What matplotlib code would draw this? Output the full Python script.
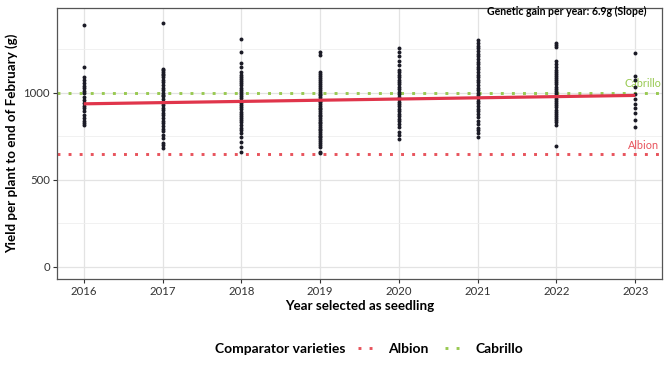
import numpy as np
import matplotlib.pyplot as plt
from matplotlib.lines import Line2D

plt.rcParams['font.family'] = ['Lato', 'DejaVu Sans']

# Yield per plant (g) for each selection year
years = [2016, 2017, 2018, 2019, 2020, 2021, 2022, 2023]
yield_2016 = [1388, 1148, 1090, 1075, 1059, 1042, 1027, 1013, 998, 979, 960, 940,
              925, 912, 893, 874, 855, 841, 826, 816]
yield_2017 = [1400, 1138, 1130, 1120, 1110, 1100, 1090, 1075, 1060, 1045, 1030, 1015,
              1000, 990, 980, 965, 950, 940, 930, 915, 900, 885, 870, 855, 840, 825,
              810, 795, 780, 760, 740, 710, 700, 682]
yield_2018 = [1310, 1237, 1174, 1151, 1122, 1103, 1090, 1078, 1066, 1055, 1043, 1030,
              1018, 1005, 992, 980, 968, 955, 942, 930, 918, 905, 892, 880, 867, 855,
              842, 830, 815, 800, 787, 768, 749, 720, 691, 663]
yield_2019 = [1234, 1218, 1122, 1110, 1098, 1086, 1074, 1062, 1050, 1040, 1028, 1016,
              1005, 995, 985, 975, 965, 955, 945, 935, 925, 915, 905, 895, 885, 875,
              865, 855, 845, 835, 825, 815, 805, 795, 785, 775, 765, 755, 745, 735,
              725, 712, 700, 690, 663, 652]
yield_2020 = [1256, 1232, 1209, 1184, 1161, 1132, 1118, 1104, 1090, 1076, 1062, 1048,
              1034, 1020, 1006, 992, 978, 964, 950, 936, 922, 908, 894, 880, 866, 852,
              838, 822, 806, 778, 759, 734]
yield_2021 = [1301, 1286, 1270, 1255, 1240, 1225, 1210, 1195, 1180, 1165, 1150, 1135,
              1120, 1105, 1090, 1075, 1060, 1045, 1030, 1015, 1000, 985, 970, 955, 940,
              925, 910, 895, 880, 860, 840, 820, 800, 785, 768, 749]
yield_2022 = [1286, 1276, 1266, 1184, 1165, 1150, 1132, 1120, 1108, 1096, 1084, 1072,
              1060, 1048, 1036, 1024, 1012, 1000, 988, 976, 964, 952, 940, 928, 916,
              904, 892, 880, 868, 856, 844, 830, 816, 697]
yield_2023 = [1228, 1094, 1075, 1033, 992, 964, 937, 912, 883, 845, 806]
yields = [yield_2016, yield_2017, yield_2018, yield_2019,
          yield_2020, yield_2021, yield_2022, yield_2023]

# Linear trend
gain_per_year = 6.9
fit_at_2016 = 937

# Comparator varieties
comparators = ['Albion', 'Cabrillo']
comparator_yield = [648, 1000]
comparator_colors = ['#E8535C', '#98C951']
dotted = (0, (1, 2.8))

fig = plt.figure(figsize=(6.7, 3.75), dpi=100)
ax = fig.add_axes([0.085, 0.256, 0.903, 0.723])

# Grid: major and minor lines like ggplot
ax.set_yticks([0, 500, 1000])
ax.set_yticks([250, 750, 1250], minor=True)
ax.set_xticks(years)
ax.grid(True, which='major', color='#E3E3E3', linewidth=0.9)
ax.grid(True, which='minor', axis='y', color='#EFEFEF', linewidth=0.6)
ax.tick_params(which='minor', length=0)
ax.set_axisbelow(True)

# Comparator reference lines
for name, val, col in zip(comparators, comparator_yield, comparator_colors):
    ax.axhline(val, color=col, linewidth=2.1, linestyle=dotted, zorder=1)
    ax.text(2023.1, val + 20, name, color=col, fontsize=7.8,
            ha='center', va='bottom')

# Individual plants
for yr, vals in zip(years, yields):
    ax.scatter(np.full(len(vals), yr), vals, s=8, color='#1B1B26',
               linewidths=0, zorder=3)

# Trend line
xs = np.array([years[0], years[-1]])
ax.plot(xs, fit_at_2016 + gain_per_year * (xs - years[0]),
        color='#E0354B', linewidth=2.3, zorder=4, solid_capstyle='butt')

ax.text(2023.15, 1466, f"Genetic gain per year: {gain_per_year}g (Slope)",
        fontsize=7.6, fontweight='bold', ha='right', va='center')

ax.set_xlim(2015.66, 2023.34)
ax.set_ylim(-69, 1488)

for s in ax.spines.values():
    s.set_color('#555555')
    s.set_linewidth(0.9)
ax.tick_params(which='major', length=3, color='#333333', labelsize=8.2,
               labelcolor='#333333', pad=2)

ax.set_xlabel('Year selected as seedling', fontsize=9.6, fontweight='bold',
              labelpad=2)
ax.set_ylabel('Yield per plant to end of February (g)', fontsize=9.6,
              fontweight='bold', labelpad=4)

# Legend at bottom
fig.text(0.515, 0.069, 'Comparator varieties', fontsize=10,
         fontweight='bold', ha='right', va='center')
handles = [Line2D([0], [0], color=c, linewidth=2.1, linestyle=dotted)
           for c in comparator_colors]
fig.legend(handles, comparators, loc='center left', bbox_to_anchor=(0.515, 0.069),
           ncol=2, frameon=False, handlelength=1.4, handletextpad=0.8,
           columnspacing=1.2, prop={'weight': 'bold', 'size': 10})

fig.savefig('out.png', dpi=100)
